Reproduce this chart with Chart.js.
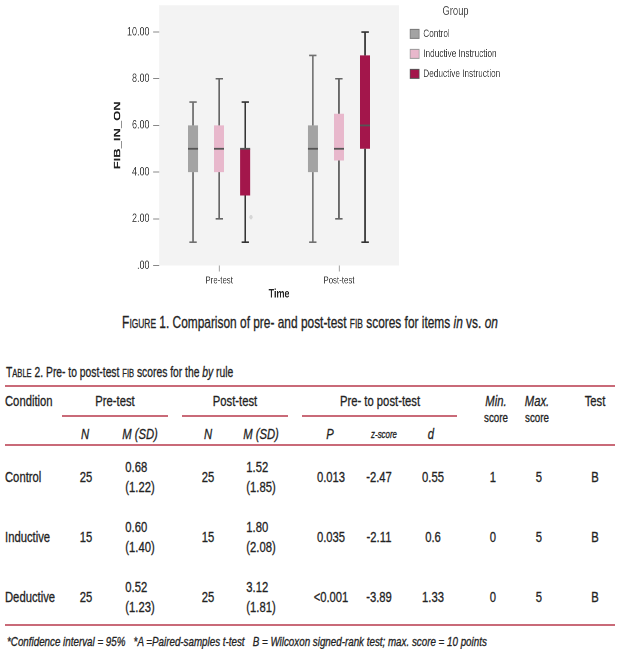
<!DOCTYPE html>
<html>
<head>
<meta charset="utf-8">
<script src="https://cdn.jsdelivr.net/npm/chart.js@4.4.1/dist/chart.umd.min.js"></script>
<style>
  html, body { margin: 0; padding: 0; background: #fff; }
  body {
    width: 620px; height: 649px; position: relative; overflow: hidden;
    font-family: "Liberation Sans", Arial, sans-serif;
    color: #222;
  }
  /* the chart is laid out 827px wide and squeezed to 620px so its text looks condensed */
  #chartBox {
    position: absolute; left: 0; top: -7.4px; width: 827px; height: 309px;
    transform: scaleX(0.75); transform-origin: 0 0;
  }
  .t { position: absolute; white-space: nowrap; font-size: 15px; line-height: 20px; -webkit-text-stroke: 0.3px #222; }
  .rule { position: absolute; height: 1.5px; background: #c96a78; }
  .sc { font-variant: small-caps; }
</style>
</head>
<body>
<div id="chartBox"><canvas id="boxChart"></canvas></div>
<div id="page"></div>
<script>
// Box plot data
const times = ['Pre-test', 'Post-test'];
const groups = ['Control', 'Inductive Instruction', 'Deductive Instruction'];
// one row per group, one value per time
const whiskerLow  = [[1, 1], [2, 2],   [1, 1]];
const boxLow      = [[4, 4], [4, 4.5], [3, 5]];
const medians     = [[5, 5], [5, 5],   [5, 6]];
const boxHigh     = [[6, 6], [6, 6.5], [5, 9]];
const whiskerHigh = [[7, 9], [8, 8],   [7, 10]];
const outliers    = [[[], []], [[], []], [[2.07], []]];
const yTicks = [0, 2, 4, 6, 8, 10];

const boxColors = ['#a3a3a3', '#e8b8cc', '#a3164b'];
const edgeColors = ['#777777', '#999999', '#555555'];
const whiskerColors = ['#707070', '#666666', '#333333'];

// Table data
const conditions = ['Control', 'Inductive', 'Deductive'];
const preN = ['25', '15', '25'];
const preM = ['0.68', '0.60', '0.52'];
const preSD = ['(1.22)', '(1.40)', '(1.23)'];
const postN = ['25', '15', '25'];
const postM = ['1.52', '1.80', '3.12'];
const postSD = ['(1.85)', '(2.08)', '(1.81)'];
const pValues = ['0.013', '0.035', '<0.001'];
const zScores = ['-2.47', '-2.11', '-3.89'];
const dValues = ['0.55', '0.6', '1.33'];
const minScores = ['1', '0', '0'];
const maxScores = ['5', '5', '5'];
const tests = ['B', 'B', 'B'];

const FONT = '"Liberation Sans", Arial, sans-serif';

// plot background
const plotBg = {
    id: 'plotBg',
    beforeDraw(chart) {
        const {ctx, chartArea: a} = chart;
        ctx.save();
        ctx.fillStyle = '#f3f3f3';
        ctx.fillRect(a.left, a.top, a.right - a.left, a.bottom - a.top);
        ctx.restore();
    }
};

// whiskers, caps, medians and outliers on top of the floating bars
const boxWhiskers = {
    id: 'boxWhiskers',
    afterDatasetsDraw(chart) {
        const ctx = chart.ctx;
        const y = chart.scales.y;
        chart.data.datasets.forEach((ds, g) => {
            const meta = chart.getDatasetMeta(g);
            if (meta.hidden) return;
            meta.data.forEach((bar, i) => {
                const x = bar.x;
                const half = bar.width / 2;
                const cap = bar.width * 0.36;
                const lo = y.getPixelForValue(whiskerLow[g][i]);
                const hi = y.getPixelForValue(whiskerHigh[g][i]);
                ctx.save();
                ctx.strokeStyle = whiskerColors[g];
                ctx.lineWidth = 2;
                ctx.beginPath();
                ctx.moveTo(x, lo);
                ctx.lineTo(x, y.getPixelForValue(boxLow[g][i]));
                ctx.moveTo(x, y.getPixelForValue(boxHigh[g][i]));
                ctx.lineTo(x, hi);
                ctx.stroke();
                ctx.lineWidth = 1.6;
                ctx.beginPath();
                ctx.moveTo(x - cap, lo);
                ctx.lineTo(x + cap, lo);
                ctx.moveTo(x - cap, hi);
                ctx.lineTo(x + cap, hi);
                ctx.stroke();
                ctx.strokeStyle = '#555';
                ctx.lineWidth = 1.8;
                ctx.beginPath();
                ctx.moveTo(x - half, y.getPixelForValue(medians[g][i]));
                ctx.lineTo(x + half, y.getPixelForValue(medians[g][i]));
                ctx.stroke();
                ctx.fillStyle = '#d6d6d6';
                outliers[g][i].forEach(v => {
                    ctx.beginPath();
                    ctx.arc(x + half + 1, y.getPixelForValue(v), 2.2, 0, Math.PI * 2);
                    ctx.fill();
                });
                ctx.restore();
            });
        });
    }
};

const ctx = document.getElementById('boxChart').getContext('2d');
new Chart(ctx, {
    type: 'bar',
    data: {
        labels: times,
        datasets: groups.map((name, g) => ({
            label: name,
            data: times.map((t, i) => [boxLow[g][i], boxHigh[g][i]]),
            backgroundColor: boxColors[g],
            borderWidth: 0,
            categoryPercentage: 0.653,
            barPercentage: 0.385
        }))
    },
    options: {
        responsive: true,
        maintainAspectRatio: false,
        animation: false,
        devicePixelRatio: 2,
        layout: { padding: { left: 141, top: 4, right: 150, bottom: 2 } },
        scales: {
            x: {
                border: { display: false },
                grid: { offset: false, drawOnChartArea: false, drawTicks: true, tickLength: 6, color: '#888', lineWidth: 1.3 },
                ticks: { color: '#444', padding: 4, font: { family: FONT, size: 10.5, lineHeight: 1 } },
                title: { display: true, text: 'Time', color: '#222', padding: { top: -2, bottom: 0 },
                         font: { family: FONT, size: 12, weight: 'bold', lineHeight: 1 } }
            },
            y: {
                min: 0,
                max: 11.15,
                border: { display: false },
                grid: { drawOnChartArea: false, drawTicks: true, tickLength: 8, color: '#888' },
                afterBuildTicks: axis => { axis.ticks = yTicks.map(v => ({ value: v })); },
                ticks: {
                    color: '#444', padding: 5, font: { family: FONT, size: 12 },
                    callback: v => v.toFixed(2).replace(/^0/, '')
                },
                title: { display: true, text: 'FIB_IN_ON', color: '#222', padding: { top: 9, bottom: 0 },
                         font: { family: FONT, size: 13, weight: 'bold', lineHeight: 1.1 } }
            },
            // empty spacer between the plot and the legend
            gap: {
                position: 'right',
                display: true,
                border: { display: false },
                grid: { display: false },
                ticks: { display: false },
                afterFit: s => { s.width = 6; }
            }
        },
        plugins: {
            tooltip: { enabled: false },
            legend: {
                position: 'right',
                align: 'start',
                maxWidth: 160,
                title: { display: true, text: 'Group', color: '#555', padding: { top: 8.4, bottom: -1 },
                         font: { family: FONT, size: 12.5 } },
                labels: {
                    boxWidth: 12, boxHeight: 9, padding: 9, color: '#444',
                    font: { family: FONT, size: 11 },
                    generateLabels: chart => chart.data.datasets.map((ds, i) => ({
                        text: ds.label,
                        fillStyle: boxColors[i],
                        strokeStyle: edgeColors[i],
                        lineWidth: 1,
                        fontColor: '#444',
                        hidden: !chart.isDatasetVisible(i),
                        datasetIndex: i
                    }))
                }
            }
        }
    },
    plugins: [plotBg, boxWhiskers]
});

// caption and table as positioned text
const page = document.getElementById('page');
// align 'l' starts the text at x, otherwise it is centred; squeeze = horizontal scale, fit = target width
function put(html, x, y, o = {}) {
    const d = document.createElement('div');
    d.className = 't';
    d.style.left = x + 'px';
    d.style.top = y + 'px';
    if (o.size) d.style.fontSize = o.size + 'px';
    if (o.italic) d.style.fontStyle = 'italic';
    d.innerHTML = html;
    page.appendChild(d);
    let s = o.squeeze || 0.75;
    if (o.fit) s = o.fit / d.offsetWidth;
    if (o.align === 'l') {
        d.style.transformOrigin = '0 50%';
        d.style.transform = 'translate(0,-50%) scaleX(' + s + ')';
    } else {
        d.style.transform = 'translate(-50%,-50%) scaleX(' + s + ')';
    }
}
function rule(x1, x2, y) {
    const d = document.createElement('div');
    d.className = 'rule';
    d.style.left = x1 + 'px';
    d.style.width = (x2 - x1) + 'px';
    d.style.top = y + 'px';
    page.appendChild(d);
}

put('<span class="sc">Figure</span> 1. Comparison of pre- and post-test <span class="sc">fib</span> scores for items <i>in</i> vs. <i>on</i>',
    310, 323, { size: 17, fit: 376 });
put('<span class="sc">Table</span> 2. Pre- to post-test <span class="sc">fib</span> scores for the <i>by</i> rule',
    6, 372, { size: 15, fit: 227, align: 'l' });

rule(5, 615, 385);
rule(62, 168, 415);
rule(182, 288, 415);
rule(302, 457, 415);
rule(5, 615, 444);
rule(5, 615, 624);

const headY = 401;
put('Condition', 5, headY, { align: 'l' });
put('Pre-test', 115, headY);
put('Post-test', 235, headY);
put('Pre- to post-test', 380, headY);
put('Min.', 496, headY, { italic: true });
put('Max.', 537, headY, { italic: true });
put('Test', 595, headY);
put('score', 496, 418, { size: 13 });
put('score', 537, 418, { size: 13 });

const subY = 434;
put('N', 85, subY, { italic: true });
put('M (SD)', 140, subY, { italic: true });
put('N', 208, subY, { italic: true });
put('M (SD)', 261, subY, { italic: true });
put('P', 330, subY, { italic: true });
put('z-score', 384, subY, { italic: true, size: 10.5 });
put('d', 431, subY, { italic: true });

const rowY = [477, 537, 597];
conditions.forEach((c, r) => {
    const y = rowY[r];
    put(c, 5, y, { align: 'l' });
    put(preN[r], 86, y);
    put(preM[r] + '<br>' + preSD[r], 140, y);
    put(postN[r], 208, y);
    put(postM[r] + '<br>' + postSD[r], 261, y);
    put(pValues[r], 331, y);
    put(zScores[r], 379, y);
    put(dValues[r], 433, y);
    put(minScores[r], 493, y);
    put(maxScores[r], 539, y);
    put(tests[r], 595, y);
});

put('*Confidence interval = 95% &nbsp; *A =Paired-samples t-test &nbsp; B = Wilcoxon signed-rank test; max. score = 10 points',
    7, 642, { size: 13, italic: true, fit: 480, align: 'l' });
</script>
</body>
</html>
